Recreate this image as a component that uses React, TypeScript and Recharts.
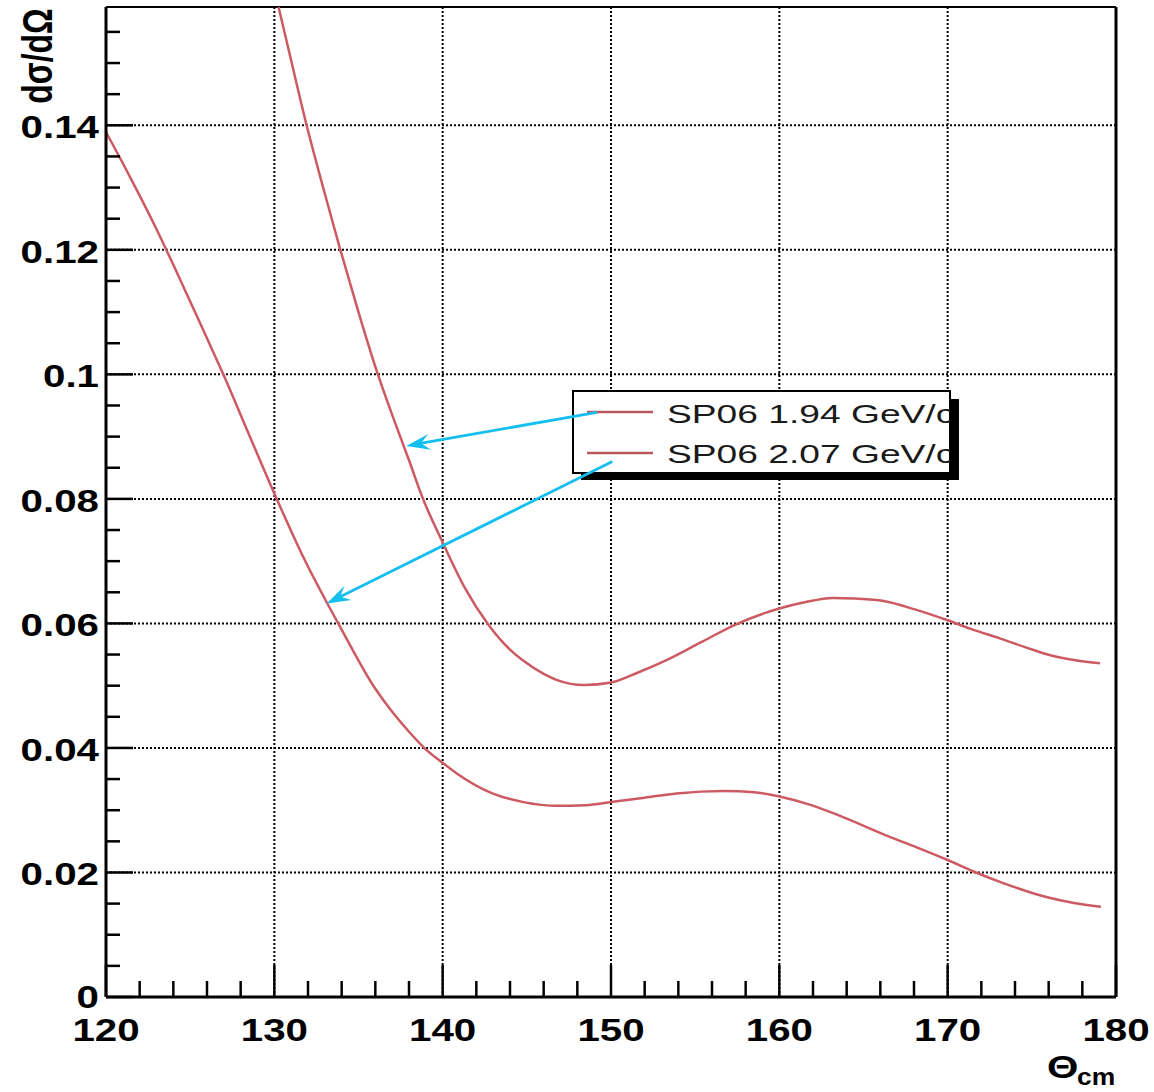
import { LineChart, Line, XAxis, YAxis, CartesianGrid, ReferenceLine } from "recharts";

// SP06 1.94 GeV/c
const theta194 = [
  130.25, 131.0, 131.9, 133.0, 133.9, 135.0, 136.1, 137.0, 138.0, 138.76, 140.0, 141.3, 142.72, 144.0,
  144.8, 146.0, 146.8, 148.4, 150.0, 151.5, 153.3, 155.3, 157.3, 160.0, 161.5, 163.2, 164.5, 166.2,
  168.0, 170.0, 171.5, 173.1, 174.6, 176.1, 177.6, 179.05,
];
const xsec194 = [
  0.159, 0.1504, 0.1402, 0.129, 0.1202, 0.11, 0.1004, 0.0935, 0.0862, 0.0805, 0.073, 0.0658, 0.0598, 0.0558,
  0.054, 0.0519, 0.0509, 0.0501, 0.0505, 0.052, 0.0541, 0.0569, 0.0597, 0.0624, 0.0634, 0.0641, 0.064, 0.0636,
  0.0623, 0.0605, 0.059, 0.0576, 0.0562, 0.0549, 0.0541, 0.0536,
];

// SP06 2.07 GeV/c
const theta207 = [
  120.0, 121.0, 122.0, 123.0, 124.0, 125.0, 126.0, 127.0, 128.5, 130.14, 131.82, 133.11, 133.9, 136.0,
  137.0, 138.0, 138.95, 140.0, 140.84, 142.95, 144.8, 146.8, 148.5, 150.0, 152.0, 153.9, 156.7, 158.5,
  160.0, 161.8, 163.5, 166.3, 168.2, 170.0, 171.5, 173.1, 175.8, 177.5, 179.1,
];
const xsec207 = [
  0.1389, 0.1339, 0.1287, 0.1233, 0.1176, 0.1117, 0.1058, 0.0998, 0.0903, 0.08, 0.0701, 0.0634, 0.0595, 0.0495,
  0.0458, 0.0426, 0.0399, 0.0376, 0.0359, 0.0327, 0.0313, 0.0307, 0.0308, 0.0313, 0.032, 0.0327, 0.0331, 0.0329,
  0.0322, 0.0309, 0.0292, 0.026, 0.024, 0.022, 0.0202, 0.0185, 0.0161, 0.0151, 0.0145,
];

const seriesNames = ["SP06 1.94 GeV/c", "SP06 2.07 GeV/c"];

const xMajor = [120, 130, 140, 150, 160, 170, 180];
const xTicks = [
  120, 122, 124, 126, 128, 130, 132, 134, 136, 138, 140, 142, 144, 146, 148, 150,
  152, 154, 156, 158, 160, 162, 164, 166, 168, 170, 172, 174, 176, 178, 180,
];
const yMajor = [0, 0.02, 0.04, 0.06, 0.08, 0.1, 0.12, 0.14];
const yTicks = [
  0, 0.005, 0.01, 0.015, 0.02, 0.025, 0.03, 0.035, 0.04, 0.045, 0.05, 0.055, 0.06, 0.065, 0.07, 0.075,
  0.08, 0.085, 0.09, 0.095, 0.1, 0.105, 0.11, 0.115, 0.12, 0.125, 0.13, 0.135, 0.14, 0.145, 0.15, 0.155,
];
const yTop = 0.159;

// arrows from the legend samples to the curves, [theta, value]
const arrows = [
  { from: [149.16, 0.0939], to: [137.83, 0.0885] },
  { from: [150.08, 0.086], to: [133.11, 0.0632] },
];

const data194 = theta194.map((t, i) => ({ theta: t, xsec: xsec194[i] }));
const data207 = theta207.map((t, i) => ({ theta: t, xsec: xsec207[i] }));

const CURVE = "#cd5a62";
const CYAN = "#14bff0";
const FONT = "'Liberation Sans', Arial, sans-serif";

const isMajorY = (v: number) => yMajor.some((m) => Math.abs(m - v) < 1e-9);

const YTick = (props: any) => {
  const { x, y, payload } = props;
  const v = payload.value;
  const major = isMajorY(v);
  return (
    <g>
      <line x1={x} y1={y} x2={x + (major ? 27 : 14)} y2={y} stroke="#000" strokeWidth={2.5} />
      {major && (
        <text
          transform={`translate(${x - 7}, ${y + (v === 0 ? 11 : 13)}) scale(1.3, 1)`}
          textAnchor="end"
          fontFamily={FONT}
          fontWeight="bold"
          fontSize={31}
          fill="#000"
        >
          {String(Number(v.toFixed(3)))}
        </text>
      )}
    </g>
  );
};

const XTick = (props: any) => {
  const { x, y, payload } = props;
  const v = payload.value;
  const major = xMajor.includes(v);
  return (
    <g>
      <line x1={x} y1={y} x2={x} y2={y - (major ? 32 : 16)} stroke="#000" strokeWidth={2.5} />
      {major && (
        <text
          transform={`translate(${x}, ${y + 44}) scale(1.3, 1)`}
          textAnchor="middle"
          fontFamily={FONT}
          fontWeight="bold"
          fontSize={31}
          fill="#000"
        >
          {v}
        </text>
      )}
    </g>
  );
};

const Arrow = (p: any) => {
  const { x1, y1, x2, y2 } = p;
  const dx = x1 - x2;
  const dy = y1 - y2;
  const len = Math.sqrt(dx * dx + dy * dy);
  const ux = dx / len;
  const uy = dy / len;
  const px = -uy;
  const py = ux;
  const back = 24;
  const half = 8;
  const notch = 15;
  const pts = [
    [x2, y2],
    [x2 + ux * back + px * half, y2 + uy * back + py * half],
    [x2 + ux * notch, y2 + uy * notch],
    [x2 + ux * back - px * half, y2 + uy * back - py * half],
  ]
    .map((q) => q.join(","))
    .join(" ");
  return (
    <g>
      <line x1={x1} y1={y1} x2={x2 + ux * 10} y2={y2 + uy * 10} stroke={CYAN} strokeWidth={2.8} />
      <polygon points={pts} fill={CYAN} />
    </g>
  );
};

const LegendBox = () => (
  <g>
    <defs>
      <clipPath id="legendClip">
        <rect x={573} y={391} width={377} height={82} />
      </clipPath>
    </defs>
    <rect x={581} y={399} width={378} height={81} fill="#000" />
    <rect x={573} y={391} width={377} height={82} fill="#fff" stroke="#000" strokeWidth={2} />
    <g clipPath="url(#legendClip)">
      {seriesNames.map((name, i) => (
        <g key={name}>
          <line x1={587} x2={653} y1={412 + i * 41} y2={412 + i * 41} stroke="#b8585d" strokeWidth={2.5} />
          <text
            transform={`translate(667, ${423 + i * 40}) scale(1.43, 1)`}
            fontFamily={FONT}
            fontSize={26}
            fill="#1a1a1a"
          >
            {name}
          </text>
        </g>
      ))}
    </g>
  </g>
);

export default function App() {
  return (
    <div style={{ position: "absolute", left: 0, top: 0, width: 1154, height: 1092, background: "#fff" }}>
      <LineChart width={1154} height={1092} margin={{ top: 7, right: 38, left: 0, bottom: 0 }}>
        <CartesianGrid
          stroke="#000"
          strokeWidth={2}
          strokeDasharray="2 2"
          horizontalValues={yMajor.slice(1)}
          verticalValues={xMajor.slice(1, -1)}
        />
        <XAxis
          type="number"
          dataKey="theta"
          domain={[120, 180]}
          ticks={xTicks}
          interval={0}
          height={95}
          tickSize={0}
          tickMargin={0}
          tickLine={false}
          tick={<XTick />}
          axisLine={{ stroke: "#000", strokeWidth: 3 }}
          allowDuplicatedCategory={false}
        />
        <YAxis
          type="number"
          domain={[0, yTop]}
          ticks={yTicks}
          interval={0}
          width={106}
          tickSize={0}
          tickMargin={0}
          tickLine={false}
          tick={<YTick />}
          axisLine={{ stroke: "#000", strokeWidth: 3 }}
        />
        <ReferenceLine y={yTop} stroke="#000" strokeWidth={2} />
        <ReferenceLine x={180} stroke="#000" strokeWidth={3} />
        <Line
          data={data194}
          dataKey="xsec"
          type="monotone"
          stroke={CURVE}
          strokeWidth={2.5}
          dot={false}
          isAnimationActive={false}
        />
        <Line
          data={data207}
          dataKey="xsec"
          type="monotone"
          stroke={CURVE}
          strokeWidth={2.5}
          dot={false}
          isAnimationActive={false}
        />
        <LegendBox />
        {arrows.map((a, i) => (
          <ReferenceLine
            key={i}
            segment={[
              { x: a.from[0], y: a.from[1] },
              { x: a.to[0], y: a.to[1] },
            ]}
            shape={Arrow}
          />
        ))}
        <text
          transform="translate(52, 56) scale(1.35, 1) rotate(-90)"
          textAnchor="middle"
          fontFamily={FONT}
          fontWeight="bold"
          fontSize={32}
          fill="#000"
        >
          dσ/dΩ
        </text>
        <text transform="translate(1047, 1078) scale(1.3, 1)" fontFamily={FONT} fontWeight="bold" fontSize={31} fill="#000">
          Θ
        </text>
        <text transform="translate(1077, 1085) scale(1.1, 1)" fontFamily={FONT} fontWeight="bold" fontSize={24} fill="#000">
          cm
        </text>
      </LineChart>
    </div>
  );
}
